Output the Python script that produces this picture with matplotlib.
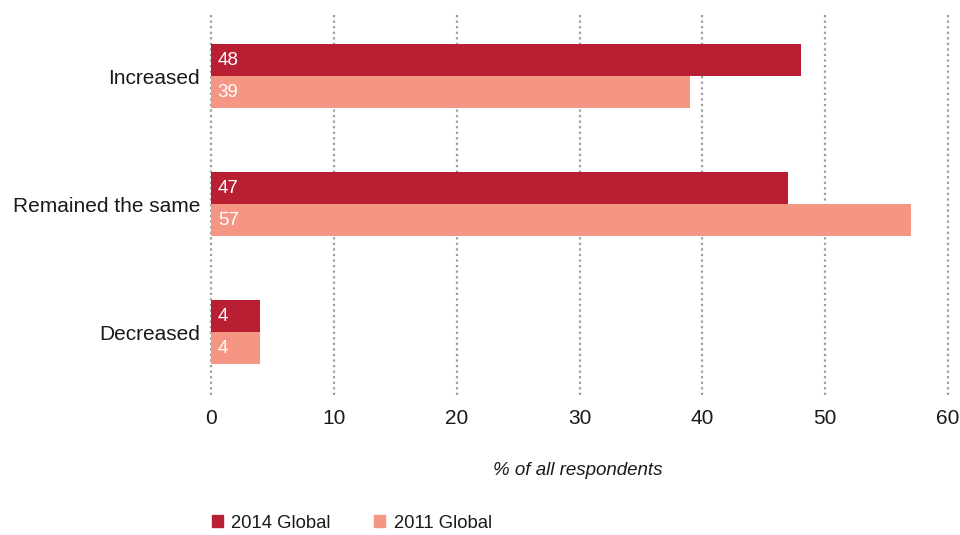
import matplotlib.pyplot as plt
import numpy as np
from matplotlib.patches import Patch

plt.rcParams['font.family'] = ['Liberation Sans', 'DejaVu Sans']

categories = ['Increased', 'Remained the same', 'Decreased']
series_names = ['2014 Global', '2011 Global']
vals_2014 = [48, 47, 4]
vals_2011 = [39, 57, 4]
colors = ['#B81F33', '#F59684']

fig = plt.figure(figsize=(9.6, 5.35), dpi=100)
ax = fig.add_axes([0.2198, 0.262, 0.7677, 0.71])

y = np.arange(len(categories))
h = 0.25
bars1 = ax.barh(y - h / 2, vals_2014, height=h, color=colors[0], zorder=3)
bars2 = ax.barh(y + h / 2, vals_2011, height=h, color=colors[1], zorder=3)

# value labels inside the bars, near the left
for bars, vals in [(bars1, vals_2014), (bars2, vals_2011)]:
    for b, v in zip(bars, vals):
        ax.text(0.55, b.get_y() + b.get_height() / 2, str(v), color='white',
                fontsize=13.5, va='center', ha='left', zorder=4)

ax.set_xlim(0, 60)
ax.set_ylim(2.49, -0.48)
ax.set_xticks(range(0, 61, 10))
ax.set_yticks(y)
ax.set_yticklabels(categories)
ax.tick_params(axis='both', length=0, labelsize=15, colors='#1a1a1a')
ax.tick_params(axis='x', pad=10)
ax.tick_params(axis='y', pad=8)
for s in ax.spines.values():
    s.set_visible(False)
ax.grid(axis='x', linestyle=(0, (1, 1.5)), color='#A39A92', linewidth=1.6, zorder=0)
for ln in ax.get_xgridlines():
    ln.set_clip_on(False)

fig.text(0.602, 0.12, '% of all respondents', style='italic', fontsize=13.5,
         ha='center', va='center', color='#1a1a1a')

handles = [Patch(color=c) for c in colors]
fig.legend(handles, series_names, loc='center left', bbox_to_anchor=(0.2035, 0.022),
           ncol=2, frameon=False, fontsize=13.3, handlelength=0.6, handleheight=0.6,
           handletextpad=0.45, columnspacing=2.35, labelcolor='#1a1a1a')

fig.savefig('out.png', dpi=100)
